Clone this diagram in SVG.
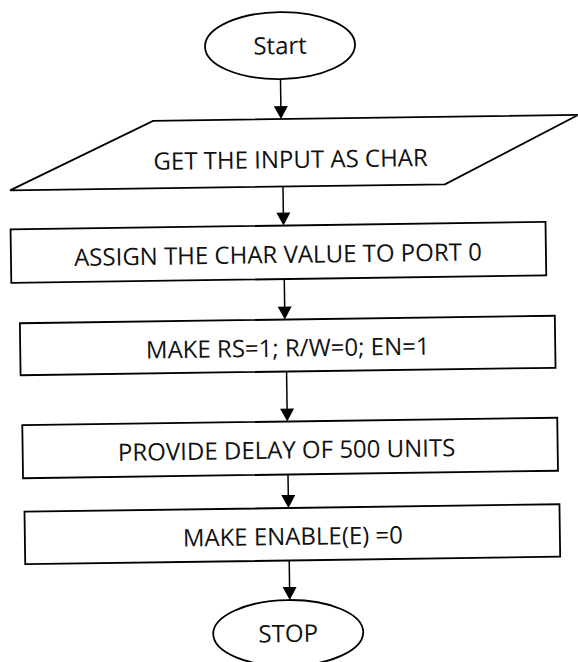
<svg xmlns="http://www.w3.org/2000/svg" width="578" height="662" viewBox="0 0 578 662">
  <defs>
    <style>
      .shape { fill: #fff; stroke: #000; stroke-width: 1.8; }
      .label { font-family: "Open Sans", "Liberation Sans", sans-serif; font-size: 24px; fill: #111; text-anchor: middle; }
      .conn { stroke: #000; stroke-width: 1.5; fill: none; }
      .head { fill: #000; }
    </style>
  </defs>
  <rect width="578" height="662" fill="#fff"/>

  <!-- whole chart sits slightly tilted on the page -->
  <g id="chart" transform="rotate(-0.8 289 331)">

    <!-- connectors: shaft plus solid triangular head -->
    <g id="connectors">
      <line class="conn" x1="284" y1="79" x2="284" y2="107"/>
      <path class="head" d="M277,106 L291,106 L284,119 Z"/>
      <line class="conn" x1="285" y1="186" x2="285" y2="214"/>
      <path class="head" d="M278,212.5 L292,212.5 L285,225.5 Z"/>
      <line class="conn" x1="285" y1="279" x2="285" y2="308"/>
      <path class="head" d="M278,306.5 L292,306.5 L285,319.5 Z"/>
      <line class="conn" x1="286" y1="371.5" x2="286" y2="410"/>
      <path class="head" d="M279,408.5 L293,408.5 L286,421.5 Z"/>
      <line class="conn" x1="286" y1="474.5" x2="286" y2="496"/>
      <path class="head" d="M279,495 L293,495 L286,508 Z"/>
      <line class="conn" x1="286" y1="560.5" x2="286" y2="588"/>
      <path class="head" d="M279,587 L293,587 L286,600 Z"/>
    </g>

    <g id="start">
      <ellipse class="shape" cx="284" cy="45.5" rx="75" ry="33.5"/>
      <text class="label" x="284" y="54">Start</text>
    </g>

    <g id="get-input">
      <polygon class="shape" points="156,119 581,119 447,186.5 12,186.5"/>
      <text class="label" x="293" y="168">GET THE INPUT AS CHAR</text>
    </g>

    <g id="assign-char">
      <rect class="shape" x="12" y="225.5" width="535" height="53.5"/>
      <text class="label" x="279" y="263">ASSIGN THE CHAR VALUE TO PORT 0</text>
    </g>

    <g id="set-control">
      <rect class="shape" x="20" y="319.5" width="535" height="52"/>
      <text class="label" x="287.5" y="356.5">MAKE RS=1; R/W=0; EN=1</text>
    </g>

    <g id="delay">
      <rect class="shape" x="21" y="421.5" width="535" height="53"/>
      <text class="label" x="285" y="458.5">PROVIDE DELAY OF 500 UNITS</text>
    </g>

    <g id="disable">
      <rect class="shape" x="22" y="508" width="535" height="52.5"/>
      <text class="label" x="290" y="545">MAKE ENABLE(E) =0</text>
    </g>

    <g id="stop">
      <ellipse class="shape" cx="284" cy="633" rx="75" ry="33"/>
      <text class="label" x="284" y="642">STOP</text>
    </g>
  </g>
</svg>
